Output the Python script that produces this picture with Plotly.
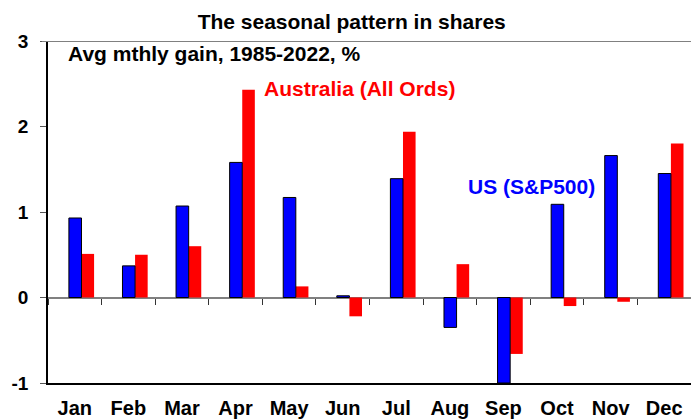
import plotly.graph_objects as go

months = ["Jan", "Feb", "Mar", "Apr", "May", "Jun", "Jul", "Aug", "Sep", "Oct", "Nov", "Dec"]
us_sp500 = [0.93, 0.37, 1.07, 1.58, 1.17, 0.02, 1.39, -0.35, -1.00, 1.09, 1.66, 1.45]
aus_allords = [0.51, 0.50, 0.60, 2.43, 0.13, -0.22, 1.94, 0.39, -0.66, -0.10, -0.05, 1.80]
y_ticks = [-1, 0, 1, 2, 3]

FONT = "Liberation Sans"

fig = go.Figure()
fig.add_trace(go.Bar(
    x=months, y=us_sp500, name="US (S&P500)", xaxis="x2",
    marker=dict(color="#0000FF", line=dict(color="#000000", width=1)),
    width=0.235, offset=-0.11, showlegend=False,
))
fig.add_trace(go.Bar(
    x=months, y=aus_allords, name="Australia (All Ords)", xaxis="x",
    marker=dict(color="#FF0000", line=dict(width=0)),
    width=0.235, offset=0.125, showlegend=False,
))

fig.update_layout(
    width=691, height=419,
    margin=dict(l=48, r=0, t=41, b=36, autoexpand=False),
    paper_bgcolor="white", plot_bgcolor="white",
    barmode="overlay",
    font=dict(family=FONT, color="black"),
    title=dict(
        text="The seasonal pattern in shares",
        x=0.509, xanchor="center", xref="container",
        y=0.948, yanchor="middle",
        font=dict(family=FONT, size=21, weight="bold", color="black"),
    ),
    xaxis=dict(
        type="category", categoryorder="array", categoryarray=months,
        range=[-0.5, 11.5], automargin=False,
        showline=True, linecolor="black", linewidth=1.5,
        ticks="outside", ticklen=6, tickcolor="rgba(0,0,0,0)",
        showgrid=False, zeroline=False,
        tickfont=dict(family=FONT, size=20, weight="bold", color="black"),
    ),
    xaxis2=dict(
        type="category", categoryorder="array", categoryarray=months,
        range=[-0.5, 11.5], overlaying="x", anchor="free", position=0.25,
        showline=False, showgrid=False, zeroline=False, automargin=False,
        ticks="outside", tickson="boundaries", ticklen=6, tickwidth=1,
        tickcolor="#333333", showticklabels=False,
    ),
    yaxis=dict(
        range=[-1, 3], tickvals=y_ticks, ticktext=[str(v) for v in y_ticks],
        showline=True, linecolor="black", linewidth=1.5, automargin=False,
        ticks="outside", ticklen=6, tickcolor="#555555", tickwidth=1,
        showgrid=False,
        zeroline=True, zerolinecolor="#808080", zerolinewidth=1.5,
        ticklabelstandoff=8,
        tickfont=dict(family=FONT, size=19, weight="bold", color="black"),
    ),
    shapes=[dict(
        type="line", xref="paper", yref="y", x0=-0.0095, x1=1, y0=3, y1=3,
        line=dict(color="#808080", width=2),
    )],
    annotations=[
        dict(text="Avg mthly gain, 1985-2022, %", xref="paper", yref="y",
             x=0.028, y=2.854, xanchor="left", yanchor="middle", showarrow=False,
             font=dict(family=FONT, size=21, weight="bold", color="black")),
        dict(text="Australia (All Ords)", xref="paper", yref="y",
             x=0.333, y=2.45, xanchor="left", yanchor="middle", showarrow=False,
             font=dict(family=FONT, size=21, weight="bold", color="#FF0000")),
        dict(text="US (S&P500)", xref="paper", yref="y",
             x=0.650, y=1.304, xanchor="left", yanchor="middle", showarrow=False,
             font=dict(family=FONT, size=21, weight="bold", color="#0000FF")),
    ],
)

fig.write_html("out.html", config={"displayModeBar": False},
               post_script="document.body.style.margin='0';")
